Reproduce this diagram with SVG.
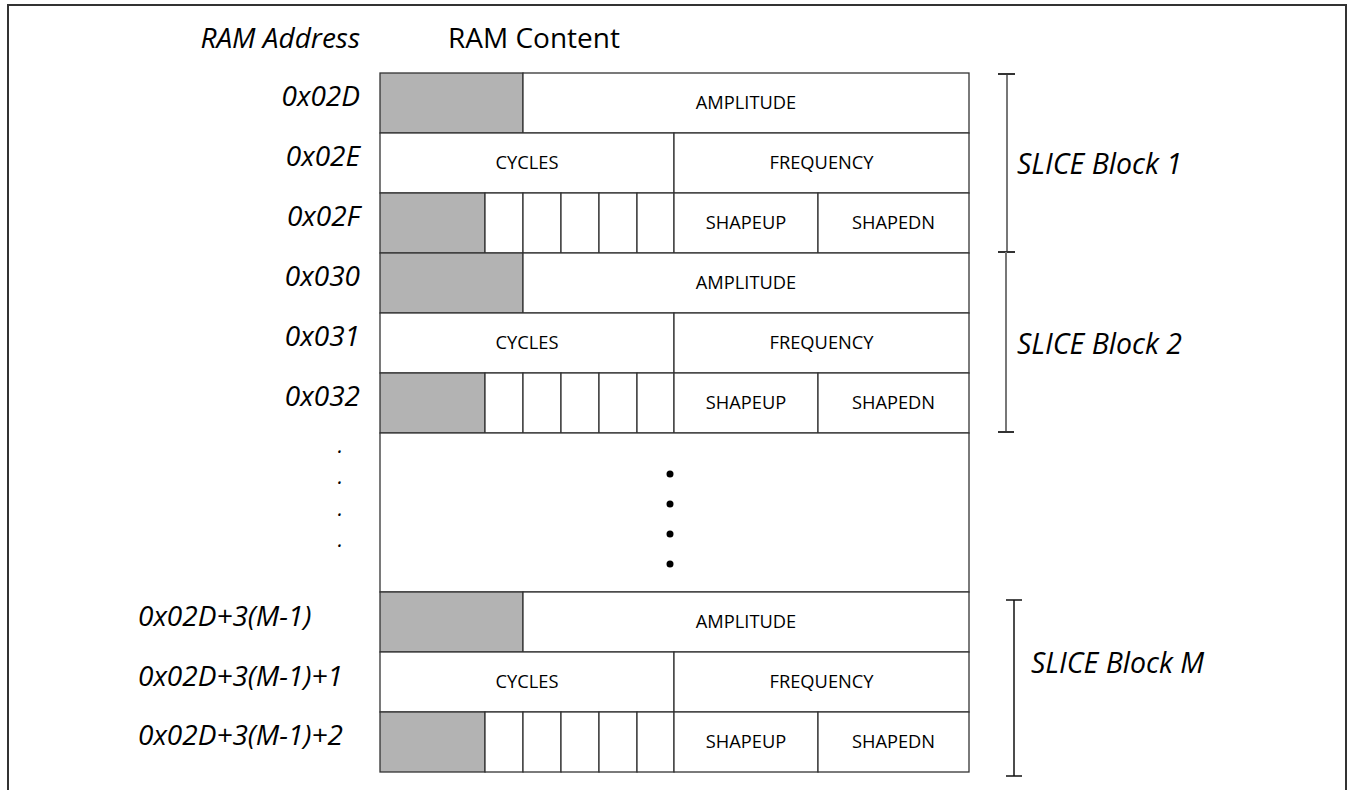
<svg xmlns="http://www.w3.org/2000/svg" width="1348" height="790" viewBox="0 0 1348 790">
<style>
.cell{fill:#fff;stroke:#333;stroke-width:1.3}
.g{fill:#b3b3b3;stroke:#333;stroke-width:1.3}
.ct{font-family:"Open Sans","Liberation Sans",sans-serif;font-size:18.3px;fill:#000;text-anchor:middle}
.addr{font-family:"Open Sans","Liberation Sans",sans-serif;font-style:italic;font-size:28px;fill:#000;text-anchor:end}
.addrm{font-family:"Open Sans","Liberation Sans",sans-serif;font-style:italic;font-size:28px;fill:#000}
.dot{font-family:"Open Sans","Liberation Sans",sans-serif;font-style:italic;font-size:21px;fill:#000;text-anchor:end}
.hdr{font-family:"Open Sans","Liberation Sans",sans-serif;font-size:28px;fill:#000}
.blk{font-family:"Open Sans","Liberation Sans",sans-serif;font-style:italic;font-size:28.5px;fill:#000}
.br1{stroke:#777;stroke-width:2;fill:none}
.brt{stroke:#333;stroke-width:2;fill:none}
.brm{stroke:#111;stroke-width:1.5;fill:none}
</style>
<rect x="8" y="5" width="1338" height="800" fill="#fff" stroke="#333" stroke-width="2"/>
<text class="hdr" x="360" y="48" text-anchor="end" font-style="italic">RAM Address</text>
<text class="hdr" x="534" y="48" text-anchor="middle">RAM Content</text>

<defs>
<g id="rowA">
<rect class="g" x="380" y="0" width="143" height="60"/>
<rect class="cell" x="523" y="0" width="446" height="60"/>
<text class="ct" x="746" y="36">AMPLITUDE</text>
</g>
<g id="rowB">
<rect class="cell" x="380" y="0" width="294" height="60"/>
<rect class="cell" x="674" y="0" width="295" height="60"/>
<text class="ct" x="527" y="36">CYCLES</text>
<text class="ct" x="821.5" y="36">FREQUENCY</text>
</g>
<g id="rowC">
<rect class="g" x="380" y="0" width="105" height="60"/>
<rect class="cell" x="485" y="0" width="38" height="60"/>
<rect class="cell" x="523" y="0" width="38" height="60"/>
<rect class="cell" x="561" y="0" width="38" height="60"/>
<rect class="cell" x="599" y="0" width="38" height="60"/>
<rect class="cell" x="637" y="0" width="37" height="60"/>
<rect class="cell" x="674" y="0" width="144" height="60"/>
<rect class="cell" x="818" y="0" width="151" height="60"/>
<text class="ct" x="746" y="36">SHAPEUP</text>
<text class="ct" x="893.5" y="36">SHAPEDN</text>
</g>
</defs>

<g id="row-02D"><use href="#rowA" y="73"/><text class="addr" x="360" y="106">0x02D</text></g>
<g id="row-02E"><use href="#rowB" y="133"/><text class="addr" x="360" y="166">0x02E</text></g>
<g id="row-02F"><use href="#rowC" y="193"/><text class="addr" x="360" y="226">0x02F</text></g>
<g id="row-030"><use href="#rowA" y="253"/><text class="addr" x="360" y="286">0x030</text></g>
<g id="row-031"><use href="#rowB" y="313"/><text class="addr" x="360" y="346">0x031</text></g>
<g id="row-032"><use href="#rowC" y="373"/><text class="addr" x="360" y="406">0x032</text></g>

<g id="ellipsis">
<rect class="cell" x="380" y="433" width="589" height="159"/>
<circle cx="670" cy="474" r="3.5" fill="#000"/>
<circle cx="670" cy="504" r="3.5" fill="#000"/>
<circle cx="670" cy="534" r="3.5" fill="#000"/>
<circle cx="670" cy="564" r="3.5" fill="#000"/>
<text class="dot" x="343" y="453">.</text>
<text class="dot" x="343" y="484">.</text>
<text class="dot" x="343" y="516">.</text>
<text class="dot" x="343" y="547">.</text>
</g>

<g id="row-M0"><use href="#rowA" y="592"/><text class="addrm" x="138" y="626">0x02D+3(M-1)</text></g>
<g id="row-M1"><use href="#rowB" y="652"/><text class="addrm" x="138" y="686">0x02D+3(M-1)+1</text></g>
<g id="row-M2"><use href="#rowC" y="712"/><text class="addrm" x="138" y="745">0x02D+3(M-1)+2</text></g>

<g id="connectors">
<g id="bracket-1">
<line class="br1" x1="1007" y1="74" x2="1007" y2="252"/>
<line class="brt" x1="998" y1="74" x2="1015" y2="74"/>
<line class="brt" x1="998" y1="252" x2="1015" y2="252"/>
</g>
<g id="bracket-2">
<line class="br1" x1="1006" y1="252" x2="1006" y2="432"/>
<line class="brt" x1="998" y1="432" x2="1014" y2="432"/>
</g>
<g id="bracket-M">
<line class="brm" x1="1014" y1="600" x2="1014" y2="776"/>
<line class="brm" x1="1006" y1="600" x2="1022" y2="600"/>
<line class="brm" x1="1006" y1="776" x2="1022" y2="776"/>
</g>
</g>
<text class="blk" x="1017" y="174">SLICE Block 1</text>
<text class="blk" x="1017" y="354">SLICE Block 2</text>
<text class="blk" x="1031" y="673">SLICE Block M</text>
</svg>
